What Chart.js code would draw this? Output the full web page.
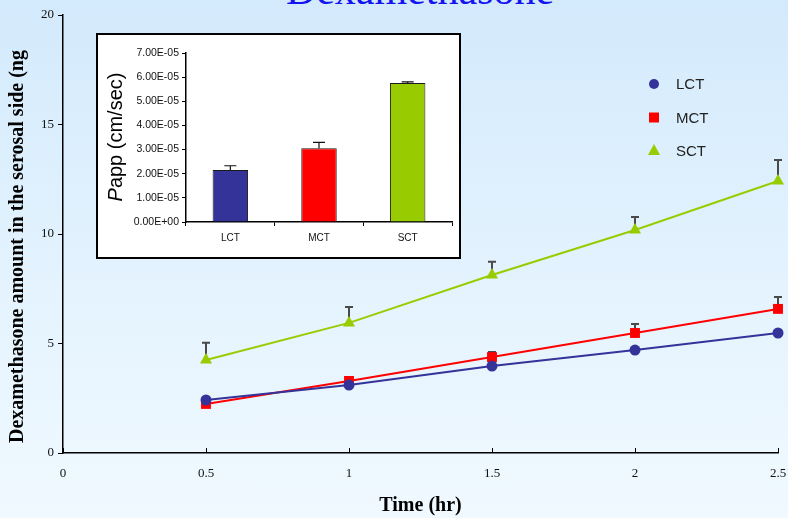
<!DOCTYPE html>
<html>
<head>
<meta charset="utf-8">
<script src="https://cdn.jsdelivr.net/npm/chart.js@4.4.1/dist/chart.umd.min.js"></script>
<style>
  html, body { margin: 0; padding: 0; }
  body {
    width: 788px; height: 518px; overflow: hidden; position: relative;
    background: linear-gradient(to bottom, #d3eafc 0%, #e4f3fe 55%, #f0f9ff 100%);
  }
  #title {
    position: absolute; left: 0; width: 840px; top: -34px; line-height: 42px;
    text-align: center; font: 42px "Liberation Serif", serif; color: #1414f0;
  }
  #main { position: absolute; left: 0; top: 0; }
  #insetBox {
    position: absolute; left: 96px; top: 33px; width: 365px; height: 226px;
    box-sizing: border-box; border: 2px solid #000; background: #fff;
  }
  #inset { position: absolute; left: 0; top: 0; }
</style>
</head>
<body>
<div id="title">Dexamethasone</div>
<canvas id="main" width="788" height="518"></canvas>
<div id="insetBox"><canvas id="inset" width="361" height="222"></canvas></div>
<script>
// time points (hr)
const times = [0.5, 1, 1.5, 2, 2.5];

// dexamethasone amount in serosal side (ng), mean and upper error
const lctAmount = [2.42, 3.10, 3.97, 4.70, 5.48];
const lctError  = [0.08, 0.10, 0.10, 0.08, 0.10];
const mctAmount = [2.24, 3.29, 4.38, 5.48, 6.58];
const mctError  = [0.10, 0.18, 0.23, 0.41, 0.54];
const sctAmount = [4.25, 5.94, 8.13, 10.18, 12.42];
const sctError  = [0.78, 0.73, 0.60, 0.60, 0.96];

// inset: apparent permeability
const groups = ['LCT', 'MCT', 'SCT'];
const pappValues = [2.15e-5, 3.05e-5, 5.76e-5];
const pappErrors = [0.18e-5, 0.25e-5, 0.04e-5];

const colors = { LCT: '#333399', MCT: '#ff0000', SCT: '#99cc00' };
const serif = '"Liberation Serif", "Times New Roman", serif';
const sans = '"Liberation Sans", Arial, sans-serif';

function pts(ys) {
  return times.map((t, i) => ({ x: t, y: ys[i] }));
}

function sci(v) {
  if (Math.abs(v) < 1e-12) return '0.00E+00';
  let e = Math.floor(Math.log10(Math.abs(v)) + 1e-9);
  let m = v / Math.pow(10, e);
  if (Math.round(m * 100) / 100 >= 10) { m /= 10; e += 1; }
  return m.toFixed(2) + 'E' + (e < 0 ? '-' : '+') + String(Math.abs(e)).padStart(2, '0');
}

// upper error bars, drawn through the chart's own scales
const errorBars = {
  id: 'errorBars',
  draw(chart, opts) {
    const ctx = chart.ctx;
    ctx.save();
    ctx.strokeStyle = opts.color || '#444';
    ctx.lineWidth = opts.width || 1.5;
    chart.data.datasets.forEach((ds, i) => {
      if (!ds.errors) return;
      const meta = chart.getDatasetMeta(i);
      const yScale = chart.scales[meta.yAxisID];
      meta.data.forEach((el, j) => {
        const raw = ds.data[j];
        const val = typeof raw === 'object' ? raw.y : raw;
        const yTop = yScale.getPixelForValue(val + ds.errors[j]);
        const yBase = yScale.getPixelForValue(val);
        ctx.beginPath();
        ctx.moveTo(el.x, yBase);
        ctx.lineTo(el.x, yTop);
        ctx.moveTo(el.x - opts.cap, yTop);
        ctx.lineTo(el.x + opts.cap, yTop);
        ctx.stroke();
      });
    });
    ctx.restore();
  },
  beforeDatasetsDraw(chart, args, opts) { if (opts.behind) this.draw(chart, opts); },
  afterDatasetsDraw(chart, args, opts) { if (!opts.behind) this.draw(chart, opts); }
};

function drawMarker(ctx, style, x, y, color) {
  ctx.fillStyle = color;
  ctx.beginPath();
  if (style === 'circle') {
    ctx.arc(x, y, 5, 0, Math.PI * 2);
  } else if (style === 'rect') {
    ctx.rect(x - 5, y - 5, 10, 10);
  } else {
    ctx.moveTo(x, y - 7);
    ctx.lineTo(x + 6, y + 4);
    ctx.lineTo(x - 6, y + 4);
    ctx.closePath();
  }
  ctx.fill();
}

// y title, inward x ticks, and the legend on the right
const mainDecor = {
  id: 'mainDecor',
  afterDraw(chart) {
    const ctx = chart.ctx;
    const xs = chart.scales.x, area = chart.chartArea;
    ctx.save();
    ctx.strokeStyle = '#000';
    ctx.lineWidth = 1;
    xs.ticks.forEach(t => {
      const px = Math.round(xs.getPixelForValue(t.value)) + 0.5;
      ctx.beginPath();
      ctx.moveTo(px, area.bottom);
      ctx.lineTo(px, area.bottom - 5);
      ctx.stroke();
    });

    ctx.translate(18, 443);
    ctx.rotate(-Math.PI / 2);
    ctx.fillStyle = '#000';
    ctx.font = 'bold 20px ' + serif;
    ctx.textAlign = 'left';
    ctx.textBaseline = 'middle';
    ctx.fillText('Dexamethasone amount in the serosal side (ng', 0, 0);
    ctx.restore();

    ctx.save();
    ctx.font = '15px ' + sans;
    ctx.textBaseline = 'middle';
    chart.data.datasets.forEach((ds, i) => {
      const y = 84 + i * 33.5;
      drawMarker(ctx, ds.pointStyle, 654, y, ds.borderColor);
      ctx.fillStyle = '#222';
      ctx.fillText(ds.label, 676, y + 1);
    });
    ctx.restore();
  }
};

new Chart(document.getElementById('main'), {
  type: 'line',
  data: {
    datasets: [
      { label: 'LCT', data: pts(lctAmount), errors: lctError, borderColor: colors.LCT, backgroundColor: colors.LCT,
        pointStyle: 'circle', pointRadius: 5.5 },
      { label: 'MCT', data: pts(mctAmount), errors: mctError, borderColor: colors.MCT, backgroundColor: colors.MCT,
        pointStyle: 'rect', pointRadius: 7 },
      { label: 'SCT', data: pts(sctAmount), errors: sctError, borderColor: colors.SCT, backgroundColor: colors.SCT,
        pointStyle: 'triangle', pointRadius: 7 }
    ].map(d => Object.assign(d, { borderWidth: 2, pointBorderWidth: 0, tension: 0, fill: false, clip: false }))
  },
  options: {
    responsive: false,
    animation: false,
    events: [],
    layout: { autoPadding: false, padding: { top: 15, right: 10, left: 0, bottom: 0 } },
    plugins: {
      legend: { display: false },
      tooltip: { enabled: false },
      errorBars: { behind: true, color: '#4a4a4a', width: 2, cap: 4 }
    },
    scales: {
      x: {
        type: 'linear', min: 0, max: 2.5,
        ticks: { stepSize: 0.5, color: '#111', font: { family: serif, size: 13 }, padding: 13, maxRotation: 0,
          callback: v => String(v) },
        grid: { drawOnChartArea: false, drawTicks: false },
        border: { color: '#000', width: 1.5 },
        title: { display: true, text: 'Time (hr)', color: '#000', font: { family: serif, size: 20, weight: 'bold' },
          padding: { top: 0, bottom: 0 } },
        afterFit: s => { s.height = 65; s.paddingLeft = 0; s.paddingRight = 0; }
      },
      y: {
        min: 0, max: 20,
        ticks: { stepSize: 5, color: '#111', font: { family: serif, size: 13 }, padding: 4 },
        grid: { drawOnChartArea: false, tickLength: 5, color: '#000' },
        border: { color: '#000', width: 1.5 },
        afterFit: s => { s.width = 63; }
      }
    }
  },
  plugins: [errorBars, mainDecor]
});

// rotated "Papp (cm/sec)" with italic P
const insetTitle = {
  id: 'insetTitle',
  afterDraw(chart) {
    const ctx = chart.ctx;
    ctx.save();
    ctx.translate(18, 102);
    ctx.rotate(-Math.PI / 2);
    ctx.fillStyle = '#000';
    ctx.textBaseline = 'middle';
    ctx.font = 'italic 20px ' + sans;
    const wP = ctx.measureText('P').width;
    ctx.font = '20px ' + sans;
    const wRest = ctx.measureText('app (cm/sec)').width;
    const x0 = -(wP + wRest) / 2;
    ctx.font = 'italic 20px ' + sans;
    ctx.fillText('P', x0, 0);
    ctx.font = '20px ' + sans;
    ctx.fillText('app (cm/sec)', x0 + wP, 0);
    ctx.restore();
  }
};

new Chart(document.getElementById('inset'), {
  type: 'bar',
  data: {
    labels: groups,
    datasets: [{
      data: pappValues, errors: pappErrors,
      backgroundColor: groups.map(g => colors[g]),
      borderColor: '#1a1a1a', borderWidth: 1,
      barPercentage: 0.4, categoryPercentage: 1
    }]
  },
  options: {
    responsive: false,
    animation: false,
    events: [],
    layout: { padding: { top: 18, right: 7, left: 0, bottom: 0 } },
    plugins: {
      legend: { display: false },
      tooltip: { enabled: false },
      errorBars: { behind: false, color: '#111', width: 1.2, cap: 6 }
    },
    scales: {
      x: {
        ticks: { color: '#111', font: { family: sans, size: 10 }, padding: 6 },
        grid: { offset: true, drawOnChartArea: false, tickLength: 4, color: '#000' },
        border: { color: '#000', width: 1.5 },
        afterFit: s => { s.height = 35; }
      },
      y: {
        min: 0, max: 7e-5,
        ticks: { stepSize: 1e-5, color: '#111', font: { family: sans, size: 10.5 }, padding: 3, callback: v => sci(v) },
        grid: { drawOnChartArea: false, tickLength: 4, color: '#000' },
        border: { color: '#000', width: 1.5 },
        afterFit: s => { s.width = 88; }
      }
    }
  },
  plugins: [errorBars, insetTitle]
});
</script>
</body>
</html>
